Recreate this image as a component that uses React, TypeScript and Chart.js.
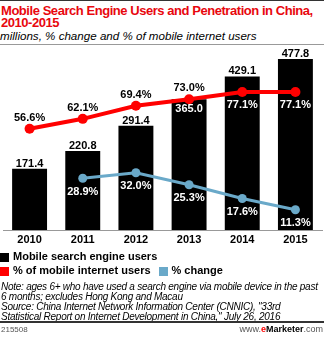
import React, { useEffect, useRef } from "react";
import { Chart, registerables } from "chart.js";

Chart.register(...registerables);

const years = ["2010", "2011", "2012", "2013", "2014", "2015"];
const users = [171.4, 220.8, 291.4, 365.0, 429.1, 477.8];
const penetration = [56.6, 62.1, 69.4, 73.0, 77.1, 77.1];
const change = [null, 28.9, 32.0, 25.3, 17.6, 11.3];

const FONT = "'Liberation Sans', Arial, sans-serif";
const RED = "#ff0000";
const BLUE = "#6aa9c9";

const labelPlugin = {
  id: "valueLabels",
  afterDatasetsDraw(chart: any) {
    const ctx = chart.ctx;
    ctx.save();
    ctx.font = `bold 11px ${FONT}`;
    ctx.textAlign = "center";
    ctx.textBaseline = "middle";
    const barMeta = chart.getDatasetMeta(0);
    barMeta.data.forEach((el: any, i: number) => {
      const inside = i === 3;
      ctx.fillStyle = inside ? "#fff" : "#000";
      const y = inside ? el.y + 10 : el.y - 5;
      ctx.fillText(users[i].toFixed(1), el.x, y);
    });
    const redMeta = chart.getDatasetMeta(1);
    redMeta.data.forEach((el: any, i: number) => {
      const below = i >= 4;
      ctx.fillStyle = below ? "#fff" : "#000";
      const y = below ? el.y + 12.5 : el.y - 11;
      ctx.fillText(penetration[i].toFixed(1) + "%", el.x, y);
    });
    const blueMeta = chart.getDatasetMeta(2);
    blueMeta.data.forEach((el: any, i: number) => {
      const v = change[i];
      if (v == null) return;
      ctx.fillStyle = "#fff";
      ctx.fillText(v.toFixed(1) + "%", el.x, el.y + 13.5);
    });
    ctx.restore();
  },
};

function ChartBox() {
  const ref = useRef<HTMLCanvasElement>(null);
  useEffect(() => {
    if (!ref.current) return;
    const chart = new Chart(ref.current, {
      type: "bar",
      data: {
        labels: years,
        datasets: [
          {
            type: "bar",
            label: "Mobile search engine users",
            data: users,
            backgroundColor: "#000",
            barPercentage: 0.657,
            categoryPercentage: 1,
            yAxisID: "y",
            order: 3,
          },
          {
            type: "line",
            label: "% of mobile internet users",
            data: penetration,
            borderColor: RED,
            backgroundColor: RED,
            borderWidth: 4,
            pointRadius: 5,
            pointBackgroundColor: RED,
            pointBorderWidth: 0,
            yAxisID: "y1",
            order: 1,
          },
          {
            type: "line",
            label: "% change",
            data: change as any,
            borderColor: BLUE,
            backgroundColor: BLUE,
            borderWidth: 3,
            pointRadius: 4.5,
            pointBackgroundColor: BLUE,
            pointBorderWidth: 0,
            yAxisID: "y1",
            order: 2,
          },
        ],
      },
      options: {
        animation: false,
        responsive: false,
        maintainAspectRatio: false,
        layout: { padding: { top: 6, left: 0, right: 0, bottom: 0 } },
        plugins: { legend: { display: false }, tooltip: { enabled: false } },
        scales: {
          x: {
            grid: { display: false, drawTicks: false, tickLength: 0 },
            border: { display: true, color: "#999", width: 1 },
            ticks: { color: "#000", font: { family: FONT, size: 11, weight: "bold" }, padding: 3 },
            afterFit(scale: any) {
              scale.height = 20;
            },
          },
          y: { display: false, min: 0, max: 500 },
          y1: { display: false, min: 0, max: 100 },
        },
      },
      plugins: [labelPlugin],
    });
    return () => chart.destroy();
  }, []);
  return (
    <canvas
      ref={ref}
      width={329}
      height={205}
      style={{ position: "absolute", left: -2, top: 45, width: 329, height: 205 }}
    />
  );
}

export default function App() {
  useEffect(() => {
    document.body.style.margin = "0";
  }, []);
  const sq = (c: string) => ({
    display: "inline-block",
    width: 9,
    height: 9,
    background: c,
    marginRight: 4,
    verticalAlign: "middle",
  });
  return (
    <div
      style={{
        position: "absolute",
        left: 0,
        top: 0,
        width: 324,
        height: 337,
        overflow: "hidden",
        background: "#fff",
        fontFamily: FONT,
      }}
    >
      <div style={{ position: "absolute", left: 0, top: 0, width: 324, height: 1, background: "#333" }} />
      <div
        style={{
          position: "absolute",
          left: 1,
          top: 5,
          width: 330,
          color: "#e8070e",
          fontWeight: "bold",
          fontSize: 13,
          letterSpacing: "-0.45px",
          lineHeight: "11.5px",
          whiteSpace: "nowrap",
        }}
      >
        Mobile Search Engine Users and Penetration in China,
        <br />
        2010-2015
      </div>
      <div
        style={{
          position: "absolute",
          left: 0,
          top: 29,
          fontStyle: "italic",
          fontSize: 11.6,
          color: "#000",
          whiteSpace: "nowrap",
        }}
      >
        millions, % change and % of mobile internet users
      </div>
      <div style={{ position: "absolute", left: 0, top: 44, width: 324, height: 1, background: "#999" }} />
      <ChartBox />
      <div style={{ position: "absolute", left: 0, top: 249, fontSize: 11, fontWeight: "bold", whiteSpace: "nowrap", lineHeight: "14px" }}>
        <div>
          <span style={sq("#000")} />
          Mobile search engine users
        </div>
        <div>
          <span style={sq(RED)} />
          % of mobile internet users
          <span style={{ display: "inline-block", width: 8 }} />
          <span style={sq(BLUE)} />
          % change
        </div>
      </div>
      <div
        style={{
          position: "absolute",
          left: 1,
          top: 282,
          fontSize: 10,
          letterSpacing: "-0.25px",
          fontStyle: "italic",
          lineHeight: "10px",
          whiteSpace: "nowrap",
          color: "#000",
        }}
      >
        Note: ages 6+ who have used a search engine via mobile device in the past
        <br />
        6 months; excludes Hong Kong and Macau
        <br />
        Source: China Internet Network Information Center (CNNIC), "33rd
        <br />
        Statistical Report on Internet Development in China," July 26, 2016
      </div>
      <div style={{ position: "absolute", left: 0, top: 321, width: 324, height: 2, background: "#333" }} />
      <div style={{ position: "absolute", left: 1, top: 325, fontSize: 8, color: "#555" }}>215508</div>
      <div style={{ position: "absolute", right: 1, top: 324, fontSize: 9, color: "#555" }}>
        www.<span style={{ color: RED, fontWeight: "bold" }}>e</span>
        <span style={{ color: "#000", fontWeight: "bold" }}>Marketer</span>.com
      </div>
    </div>
  );
}
